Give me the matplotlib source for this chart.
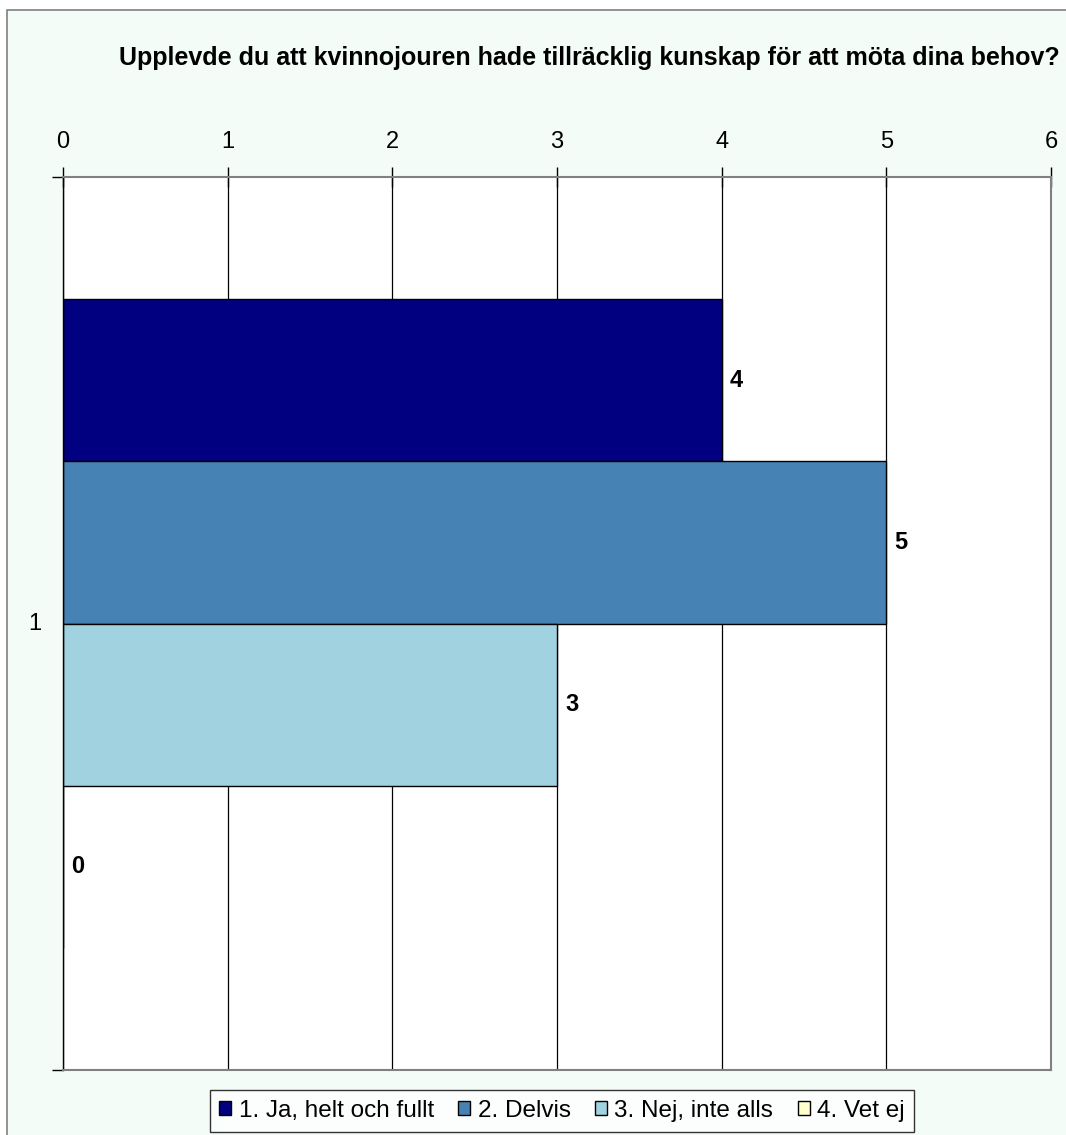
import numpy as np
import matplotlib.pyplot as plt
from matplotlib.patches import Rectangle

plt.rcParams['font.family'] = ['Liberation Sans', 'DejaVu Sans']

# chart data
categories = ["1"]
series_names = ["1. Ja, helt och fullt", "2. Delvis", "3. Nej, inte alls", "4. Vet ej"]
series_values = [4, 5, 3, 0]
series_colors = ["#000080", "#4682B4", "#A0D2E0", "#FFFFCC"]
x_ticks = [0, 1, 2, 3, 4, 5, 6]
title = "Upplevde du att kvinnojouren hade tillräcklig kunskap för att möta dina behov?"

W, H = 1066, 1135
fig = plt.figure(figsize=(W / 100, H / 100), dpi=100)
fig.patch.set_facecolor("white")

# chart area background with grey frame
fig.patches.append(Rectangle((7 / W, -0.02), 1.0, 1.02 - 10 / H, transform=fig.transFigure,
                             facecolor="#F3FCF7", edgecolor="#808080", linewidth=1.2, zorder=-10))

ax = fig.add_axes([63 / W, 1 - 1070 / H, (1051 - 63) / W, (1070 - 177) / H])
ax.set_zorder(1)
ax.set_facecolor("white")

# bar layout: 4 bars in one category, gap ~151% of bar width
n = len(series_values)
bar_h = 1.0
gap = 1.51
band = n * bar_h + gap
ax.set_ylim(band / 2, -band / 2)
ax.set_xlim(0, 6)

for k, (name, val, col) in enumerate(zip(series_names, series_values, series_colors)):
    yc = -n * bar_h / 2 + bar_h * (k + 0.5)
    ax.barh(yc, val, height=bar_h, color=col, edgecolor="black", linewidth=1.0,
            label=name, zorder=2)
    ax.annotate(str(val), (val, yc), xytext=(6, 0), textcoords="offset points",
                fontsize=17, fontweight="bold", va="center", ha="left", zorder=3)

# gridlines
for t in x_ticks[:-1]:
    ax.axvline(t, color="black", linewidth=0.9, zorder=1)

ax.xaxis.tick_top()
ax.set_xticks(x_ticks)
ax.set_xticklabels([str(t) for t in x_ticks], fontsize=17)
ax.tick_params(axis="x", direction="inout", length=15, width=1, pad=10, top=True, bottom=False)
ax.set_yticks([-band / 2, band / 2], minor=False)
ax.set_yticklabels(["", ""])
ax.tick_params(axis="y", direction="out", length=8, width=1)
ax.text(-0.17, 0, categories[0], fontsize=17, ha="center", va="center")

for s in ["top", "right", "bottom"]:
    ax.spines[s].set_color("#808080")
    ax.spines[s].set_linewidth(1.5)
ax.spines["left"].set_color("black")
ax.spines["left"].set_linewidth(1.0)

fig.text(589 / W, 1 - 58 / H, title, fontsize=18, fontweight="bold", ha="center", va="center")

leg = fig.legend(loc="center", bbox_to_anchor=(562 / W, 1 - 1111 / H), ncol=4, fontsize=17.5,
                 frameon=True, fancybox=False, edgecolor="black", facecolor="white",
                 handlelength=0.5, handleheight=0.5, handletextpad=0.3, columnspacing=1.0,
                 borderpad=0.4)
leg.get_frame().set_linewidth(1.0)

fig.savefig("out.png", dpi=100)
